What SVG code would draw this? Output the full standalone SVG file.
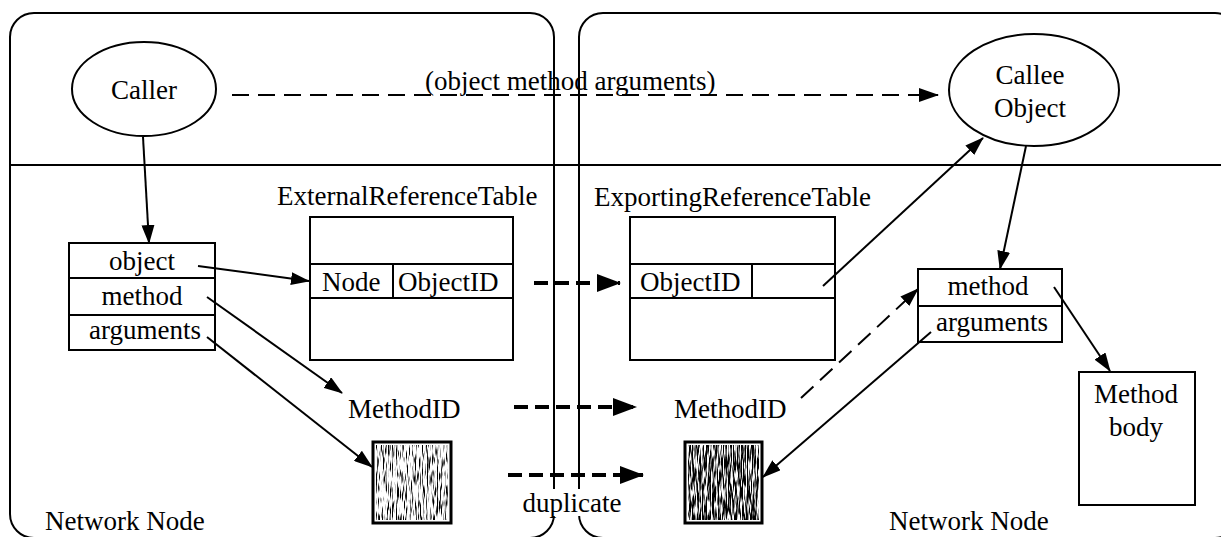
<svg xmlns="http://www.w3.org/2000/svg" width="1221" height="537" viewBox="0 0 1221 537">
<style>
text{font-family:"Liberation Serif","Times New Roman",serif;font-size:27px;fill:#000}
.c{text-anchor:middle}
.ln{stroke:#000;stroke-width:2;fill:none}
.bx{fill:#fff;stroke:#000;stroke-width:2}
.ds{stroke:#000;stroke-width:2;fill:none;stroke-dasharray:17 9}
.hd{stroke:#000;stroke-width:4;fill:none;stroke-dasharray:14 7}
.ar{stroke:#000;stroke-width:2;fill:none;marker-end:url(#ah)}
</style>
<defs>
<marker id="ah" markerUnits="userSpaceOnUse" markerWidth="19" markerHeight="13" refX="18" refY="6.5" orient="auto"><path d="M0,0 L19,6.5 L0,13 z" fill="#000"/></marker>
<marker id="ahd" markerUnits="userSpaceOnUse" markerWidth="20" markerHeight="14" refX="19" refY="7" orient="auto"><path d="M0,0 L20,7 L0,14 z" fill="#000"/></marker>
<marker id="ahh" markerUnits="userSpaceOnUse" markerWidth="24" markerHeight="18" refX="23" refY="9" orient="auto"><path d="M0,0 L24,9 L0,18 z" fill="#000"/></marker>
<filter id="grainL" x="0" y="0" width="100%" height="100%">
<feTurbulence type="fractalNoise" baseFrequency="0.8 0.07" numOctaves="2" seed="4"/>
<feColorMatrix type="matrix" values="0 0 0 0 0 0 0 0 0 0 0 0 0 0 0 -5 0 0 0 2.55"/>
<feComposite in2="SourceGraphic" operator="in"/>
</filter>
<filter id="grainR" x="0" y="0" width="100%" height="100%">
<feTurbulence type="fractalNoise" baseFrequency="0.8 0.07" numOctaves="2" seed="9"/>
<feColorMatrix type="matrix" values="0 0 0 0 0 0 0 0 0 0 0 0 0 0 0 -5 0 0 0 3.1"/>
<feComposite in2="SourceGraphic" operator="in"/>
</filter>
</defs>
<rect width="1221" height="537" fill="#fff"/>

<g id="panels">
<rect x="10" y="13" width="544" height="525" rx="24" class="ln"/>
<rect x="579" y="13" width="660" height="525" rx="24" class="ln"/>
<line x1="10" y1="165" x2="1221" y2="165" class="ln"/>
<rect x="545" y="489" width="44" height="27" fill="#fff"/>
<text x="572" y="512" class="c">duplicate</text>
<text x="45" y="530">Network Node</text>
<text x="889" y="530">Network Node</text>
</g>

<g id="caller">
<ellipse cx="144" cy="89" rx="72" ry="47" class="bx"/>
<text x="144" y="99" class="c">Caller</text>
</g>

<g id="callee">
<ellipse cx="1034" cy="90" rx="85" ry="56" class="bx"/>
<text x="1030" y="84" class="c">Callee</text>
<text x="1030" y="117" class="c">Object</text>
</g>

<g id="call-record">
<rect x="69" y="243" width="146" height="107" class="bx"/>
<line x1="69" y1="278" x2="215" y2="278" class="ln"/>
<line x1="69" y1="315" x2="215" y2="315" class="ln"/>
<text x="142" y="270" class="c">object</text>
<text x="142" y="305" class="c">method</text>
<text x="145" y="339" class="c">arguments</text>
</g>

<g id="external-table">
<text x="277" y="205">ExternalReferenceTable</text>
<rect x="310" y="217" width="203" height="143" class="bx"/>
<line x1="310" y1="264" x2="513" y2="264" class="ln"/>
<line x1="310" y1="298" x2="513" y2="298" class="ln"/>
<line x1="393" y1="264" x2="393" y2="298" class="ln"/>
<text x="322" y="291">Node</text>
<text x="398" y="291">ObjectID</text>
</g>

<g id="exporting-table">
<text x="594" y="206">ExportingReferenceTable</text>
<rect x="630" y="217" width="205" height="143" class="bx"/>
<line x1="630" y1="264" x2="835" y2="264" class="ln"/>
<line x1="630" y1="298" x2="835" y2="298" class="ln"/>
<line x1="752" y1="264" x2="752" y2="298" class="ln"/>
<text x="640" y="291">ObjectID</text>
</g>

<g id="callee-record">
<rect x="918" y="269" width="144" height="73" class="bx"/>
<line x1="918" y1="306" x2="1062" y2="306" class="ln"/>
<text x="988" y="295" class="c">method</text>
<text x="992" y="331" class="c">arguments</text>
</g>

<g id="method-body">
<rect x="1079" y="372" width="116" height="133" class="bx"/>
<text x="1136" y="403" class="c">Method</text>
<text x="1136" y="436" class="c">body</text>
</g>

<g id="methodid-left"><text x="348" y="418">MethodID</text></g>
<g id="methodid-right"><text x="674" y="418">MethodID</text></g>

<g id="args-left">
<rect x="373" y="442" width="78" height="81" fill="#fff"/>
<rect x="376" y="445" width="72" height="75" fill="#fff" filter="url(#grainL)"/>
<rect x="373" y="442" width="78" height="81" fill="none" stroke="#000" stroke-width="3"/>
</g>
<g id="args-right">
<rect x="685" y="442" width="77" height="81" fill="#fff"/>
<rect x="688" y="445" width="71" height="75" fill="#fff" filter="url(#grainR)"/>
<rect x="685" y="442" width="77" height="81" fill="none" stroke="#000" stroke-width="3"/>
</g>

<g id="connectors">
<path d="M232,95 H938" class="ds" marker-end="url(#ahd)"/>
<text x="425" y="90">(object method arguments)</text>
<path d="M143,137 L149,243" class="ar"/>
<path d="M198,266 L309,281" class="ar"/>
<path d="M207,297 L342,393" class="ar"/>
<path d="M207,337 L372,467" class="ar"/>
<path d="M534,283 H620" class="hd" marker-end="url(#ahh)"/>
<path d="M514,407 H636" class="hd" marker-end="url(#ahh)"/>
<path d="M508,475 H643" class="hd" marker-end="url(#ahh)"/>
<path d="M823,286 L983,138" class="ar"/>
<path d="M1026,146 L1000,269" class="ar"/>
<path d="M1054,287 L1110,371" class="ar"/>
<path d="M801,398 L918,289" class="ds" stroke-dasharray="14 8" marker-end="url(#ah)"/>
<path d="M931,332 L763,477" class="ar"/>
</g>
</svg>
